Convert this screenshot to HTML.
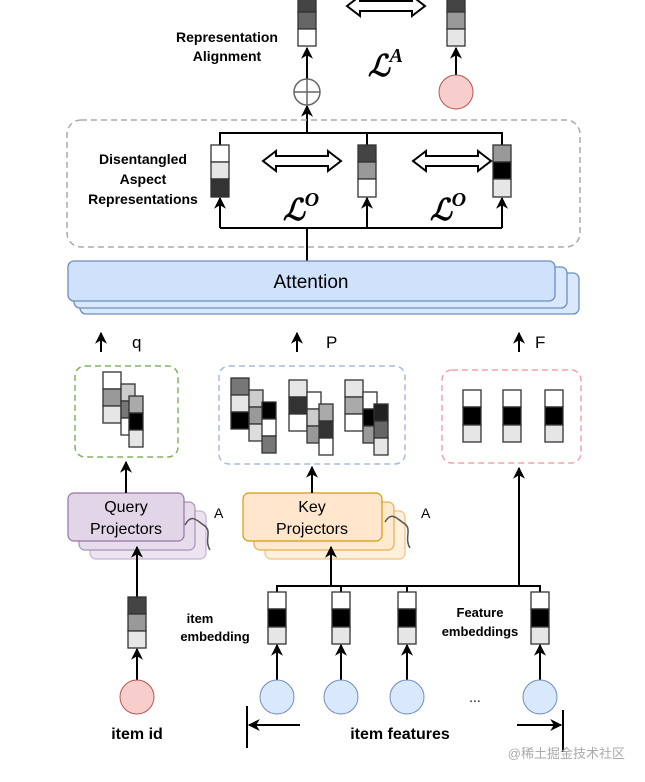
<!DOCTYPE html>
<html><head><meta charset="utf-8"><style>
html,body{margin:0;padding:0;background:#fff;}
svg{display:block;font-family:"Liberation Sans",Arial,sans-serif;}
</style></head><body>
<svg width="645" height="782" viewBox="0 0 645 782" xmlns="http://www.w3.org/2000/svg">
<defs>
<marker id="ah2" viewBox="0 0 10 10" refX="9" refY="5" markerWidth="12" markerHeight="12" orient="auto" markerUnits="userSpaceOnUse">
<path d="M0,0 L10,5 L0,10 L3,5 z" fill="#000"/></marker>
</defs>
<g stroke="#000" stroke-width="2" fill="none">
<line x1="307" y1="132" x2="307" y2="106" marker-end="url(#ah2)"/>
<line x1="307" y1="79" x2="307" y2="48" marker-end="url(#ah2)"/>
<line x1="456" y1="75" x2="456" y2="48" marker-end="url(#ah2)"/>
</g>
<g stroke="#333" stroke-width="1.3">
<rect x="298" y="-5" width="18" height="17" fill="#444"/>
<rect x="298" y="12" width="18" height="17" fill="#666"/>
<rect x="298" y="29" width="18" height="17" fill="#fff"/>
<rect x="447" y="-5" width="18" height="17" fill="#444"/>
<rect x="447" y="12" width="18" height="17" fill="#999"/>
<rect x="447" y="29" width="18" height="17" fill="#e6e6e6"/>
</g>
<path d="M347,6 L360,-4 L360,1 L412,1 L412,-4 L425,6 L412,16 L412,11 L360,11 L360,16 Z" fill="#fff" stroke="#000" stroke-width="2"/>
<circle cx="307" cy="92" r="13" fill="#fff" stroke="#666" stroke-width="1.5"/>
<line x1="294" y1="92" x2="320" y2="92" stroke="#666" stroke-width="1.5"/>
<line x1="307" y1="79" x2="307" y2="105" stroke="#666" stroke-width="1.5"/>
<circle cx="456" cy="92" r="17" fill="#f8cecc" stroke="#b85450" stroke-width="1"/>
<text x="227" y="42" font-size="14" font-weight="bold" text-anchor="middle">Representation</text>
<text x="227" y="61" font-size="14" font-weight="bold" text-anchor="middle">Alignment</text>
<text x="368" y="76" font-size="30" font-style="italic" font-weight="bold" font-family="Liberation Serif,serif">ℒ<tspan font-size="20" dy="-14">A</tspan></text>

<rect x="67" y="120" width="513" height="127" rx="14" fill="none" stroke="#aaa" stroke-width="1.5" stroke-dasharray="6,4"/>
<g stroke="#000" stroke-width="2" fill="none">
<polyline points="220,145 220,133 502,133 502,145"/>
<line x1="367" y1="133" x2="367" y2="145"/>
<polyline points="220,228 502,228"/>
<line x1="220" y1="228" x2="220" y2="198" marker-end="url(#ah2)"/>
<line x1="367" y1="228" x2="367" y2="198" marker-end="url(#ah2)"/>
<line x1="502" y1="228" x2="502" y2="198" marker-end="url(#ah2)"/>
<line x1="307" y1="228" x2="307" y2="262"/>
</g>
<g stroke="#333" stroke-width="1.3">
<rect x="211" y="145" width="18" height="17" fill="#fff"/>
<rect x="211" y="162" width="18" height="17" fill="#e6e6e6"/>
<rect x="211" y="179" width="18" height="18" fill="#333"/>
<rect x="358" y="145" width="18" height="17" fill="#444"/>
<rect x="358" y="162" width="18" height="17" fill="#999"/>
<rect x="358" y="179" width="18" height="18" fill="#fff"/>
<rect x="493" y="145" width="18" height="17" fill="#999"/>
<rect x="493" y="162" width="18" height="17" fill="#000"/>
<rect x="493" y="179" width="18" height="18" fill="#e6e6e6"/>
</g>
<path d="M263,161 L276,151 L276,156 L328,156 L328,151 L341,161 L328,171 L328,166 L276,166 L276,171 Z" fill="#fff" stroke="#000" stroke-width="2"/>
<path d="M413,161 L426,151 L426,156 L478,156 L478,151 L491,161 L478,171 L478,166 L426,166 L426,171 Z" fill="#fff" stroke="#000" stroke-width="2"/>
<text x="283" y="220" font-size="30" font-style="italic" font-weight="bold" font-family="Liberation Serif,serif">ℒ<tspan font-size="20" dy="-14">O</tspan></text>
<text x="430" y="220" font-size="30" font-style="italic" font-weight="bold" font-family="Liberation Serif,serif">ℒ<tspan font-size="20" dy="-14">O</tspan></text>
<g font-size="14" font-weight="bold" text-anchor="middle">
<text x="143" y="164">Disentangled</text>
<text x="143" y="184">Aspect</text>
<text x="143" y="204">Representations</text>
</g>

<rect x="80" y="273" width="499" height="41" rx="6" fill="#dae8fc" stroke="#6c8ebf" stroke-width="1.3"/>
<rect x="74" y="267" width="493" height="41" rx="6" fill="#dae8fc" stroke="#6c8ebf" stroke-width="1.3"/>
<rect x="68" y="261" width="487" height="40" rx="6" fill="#cfe1fb" stroke="#6c8ebf" stroke-width="1.3"/>
<text x="311" y="288" font-size="19" text-anchor="middle">Attention</text>

<g stroke="#000" stroke-width="2">
<line x1="101" y1="352" x2="101" y2="333" marker-end="url(#ah2)"/>
<line x1="297" y1="352" x2="297" y2="333" marker-end="url(#ah2)"/>
<line x1="519" y1="352" x2="519" y2="333" marker-end="url(#ah2)"/>
</g>
<text x="132" y="348" font-size="17">q</text>
<text x="326" y="348" font-size="17">P</text>
<text x="535" y="348" font-size="17">F</text>

<rect x="75" y="366" width="103" height="91" rx="10" fill="none" stroke="#82b366" stroke-width="1.5" stroke-dasharray="6,4"/>
<rect x="219" y="366" width="186" height="98" rx="10" fill="none" stroke="#a9b9e0" stroke-width="1.5" stroke-dasharray="6,4"/>
<rect x="442" y="370" width="139" height="93" rx="10" fill="none" stroke="#f4a3a8" stroke-width="1.5" stroke-dasharray="6,4"/>

<g stroke="#333" stroke-width="1.3">
<rect x="103" y="372" width="18" height="17" fill="#fff"/>
<rect x="103" y="389" width="18" height="17" fill="#999"/>
<rect x="103" y="406" width="18" height="17" fill="#e6e6e6"/>
<rect x="121" y="384" width="14" height="17" fill="#ccc"/>
<rect x="121" y="401" width="14" height="17" fill="#777"/>
<rect x="121" y="418" width="14" height="17" fill="#fff"/>
<rect x="129" y="396" width="14" height="17" fill="#aaa"/>
<rect x="129" y="413" width="14" height="17" fill="#000"/>
<rect x="129" y="430" width="14" height="17" fill="#e6e6e6"/>
<rect x="231" y="378" width="18" height="17" fill="#777"/>
<rect x="231" y="395" width="18" height="17" fill="#e6e6e6"/>
<rect x="231" y="412" width="18" height="17" fill="#000"/>
<rect x="249" y="390" width="14" height="17" fill="#ccc"/>
<rect x="249" y="407" width="14" height="17" fill="#999"/>
<rect x="249" y="424" width="14" height="17" fill="#ddd"/>
<rect x="262" y="402" width="14" height="17" fill="#000"/>
<rect x="262" y="419" width="14" height="17" fill="#fff"/>
<rect x="262" y="436" width="14" height="17" fill="#777"/>
<rect x="289" y="380" width="18" height="17" fill="#e6e6e6"/>
<rect x="289" y="397" width="18" height="17" fill="#333"/>
<rect x="289" y="414" width="18" height="17" fill="#fff"/>
<rect x="307" y="392" width="14" height="17" fill="#fff"/>
<rect x="307" y="409" width="14" height="17" fill="#ccc"/>
<rect x="307" y="426" width="14" height="17" fill="#999"/>
<rect x="319" y="404" width="14" height="17" fill="#aaa"/>
<rect x="319" y="421" width="14" height="17" fill="#333"/>
<rect x="319" y="438" width="14" height="17" fill="#fff"/>
<rect x="345" y="380" width="18" height="17" fill="#e6e6e6"/>
<rect x="345" y="397" width="18" height="17" fill="#aaa"/>
<rect x="345" y="414" width="18" height="17" fill="#fff"/>
<rect x="363" y="392" width="14" height="17" fill="#fff"/>
<rect x="363" y="409" width="14" height="17" fill="#000"/>
<rect x="363" y="426" width="14" height="17" fill="#999"/>
<rect x="374" y="404" width="14" height="17" fill="#222"/>
<rect x="374" y="421" width="14" height="17" fill="#666"/>
<rect x="374" y="438" width="14" height="17" fill="#e6e6e6"/>
<rect x="463" y="390" width="18" height="17" fill="#fff"/>
<rect x="463" y="407" width="18" height="18" fill="#000"/>
<rect x="463" y="425" width="18" height="17" fill="#e6e6e6"/>
<rect x="503" y="390" width="18" height="17" fill="#fff"/>
<rect x="503" y="407" width="18" height="18" fill="#000"/>
<rect x="503" y="425" width="18" height="17" fill="#e6e6e6"/>
<rect x="545" y="390" width="18" height="17" fill="#fff"/>
<rect x="545" y="407" width="18" height="18" fill="#000"/>
<rect x="545" y="425" width="18" height="17" fill="#e6e6e6"/>
</g>

<rect x="90" y="511" width="116" height="48" rx="6" fill="#ece4f0" stroke="#c6b3d2" stroke-width="1.2"/>
<rect x="79" y="502" width="116" height="48" rx="6" fill="#e6dcec" stroke="#a990b8" stroke-width="1.2"/>
<rect x="68" y="493" width="116" height="48" rx="6" fill="#e1d5e7" stroke="#9673a6" stroke-width="1.2"/>
<text x="126" y="512" font-size="16" text-anchor="middle">Query</text>
<text x="126" y="534" font-size="16" text-anchor="middle">Projectors</text>
<rect x="265" y="511" width="140" height="48" rx="6" fill="#fff0dd" stroke="#f0c27a" stroke-width="1.2"/>
<rect x="254" y="502" width="140" height="48" rx="6" fill="#ffe9cf" stroke="#e6ad50" stroke-width="1.2"/>
<rect x="243" y="493" width="139" height="48" rx="6" fill="#ffe6cc" stroke="#d79b00" stroke-width="1.2"/>
<text x="312" y="512" font-size="16" text-anchor="middle">Key</text>
<text x="312" y="534" font-size="16" text-anchor="middle">Projectors</text>
<path d="M185,525 C192,512 198,522 205,526 C212,532 204,540 210,550" fill="none" stroke="#555" stroke-width="1.5"/>
<text x="214" y="518" font-size="14">A</text>
<path d="M385,522 C392,510 398,520 405,524 C412,530 404,538 410,548" fill="none" stroke="#555" stroke-width="1.5"/>
<text x="421" y="518" font-size="14">A</text>

<g stroke="#000" stroke-width="2" fill="none">
<line x1="126" y1="493" x2="126" y2="462" marker-end="url(#ah2)"/>
<line x1="312" y1="493" x2="312" y2="467" marker-end="url(#ah2)"/>
<line x1="519" y1="586" x2="519" y2="468" marker-end="url(#ah2)"/>
<line x1="331" y1="586" x2="331" y2="547" marker-end="url(#ah2)"/>
<line x1="137" y1="597" x2="137" y2="547" marker-end="url(#ah2)"/>
<polyline points="277,592 277,586 540,586 540,592"/>
<line x1="341" y1="586" x2="341" y2="592"/>
<line x1="407" y1="586" x2="407" y2="592"/>
<line x1="137" y1="680" x2="137" y2="649" marker-end="url(#ah2)"/>
<line x1="277" y1="680" x2="277" y2="645" marker-end="url(#ah2)"/>
<line x1="341" y1="680" x2="341" y2="645" marker-end="url(#ah2)"/>
<line x1="407" y1="680" x2="407" y2="645" marker-end="url(#ah2)"/>
<line x1="540" y1="680" x2="540" y2="645" marker-end="url(#ah2)"/>
<line x1="247" y1="706" x2="247" y2="748"/>
<line x1="300" y1="725" x2="249" y2="725" marker-end="url(#ah2)"/>
<line x1="563" y1="710" x2="563" y2="752"/>
<line x1="517" y1="725" x2="561" y2="725" marker-end="url(#ah2)"/>
</g>
<g stroke="#333" stroke-width="1.3">
<rect x="128" y="597" width="18" height="17" fill="#444"/>
<rect x="128" y="614" width="18" height="17" fill="#999"/>
<rect x="128" y="631" width="18" height="17" fill="#e6e6e6"/>
<rect x="268" y="592" width="18" height="17" fill="#fff"/>
<rect x="268" y="609" width="18" height="18" fill="#000"/>
<rect x="268" y="627" width="18" height="17" fill="#e6e6e6"/>
<rect x="332" y="592" width="18" height="17" fill="#fff"/>
<rect x="332" y="609" width="18" height="18" fill="#000"/>
<rect x="332" y="627" width="18" height="17" fill="#e6e6e6"/>
<rect x="398" y="592" width="18" height="17" fill="#fff"/>
<rect x="398" y="609" width="18" height="18" fill="#000"/>
<rect x="398" y="627" width="18" height="17" fill="#e6e6e6"/>
<rect x="531" y="592" width="18" height="17" fill="#fff"/>
<rect x="531" y="609" width="18" height="18" fill="#000"/>
<rect x="531" y="627" width="18" height="17" fill="#e6e6e6"/>
</g>
<circle cx="137" cy="697" r="17" fill="#f8cecc" stroke="#b85450" stroke-width="1"/>
<g fill="#dae8fc" stroke="#6c8ebf" stroke-width="1">
<circle cx="277" cy="697" r="17"/><circle cx="341" cy="697" r="17"/>
<circle cx="407" cy="697" r="17"/><circle cx="540" cy="697" r="17"/>
</g>
<text x="475" y="702" font-size="14" text-anchor="middle">...</text>
<g font-size="13" font-weight="bold" text-anchor="middle">
<text x="200" y="623">item</text>
<text x="215" y="641">embedding</text>
<text x="480" y="617">Feature</text>
<text x="480" y="636">embeddings</text>
</g>
<text x="137" y="739" font-size="16" font-weight="bold" text-anchor="middle">item id</text>
<text x="400" y="739" font-size="16" font-weight="bold" text-anchor="middle">item features</text>
<text x="625" y="758" font-size="13" fill="#aaa" text-anchor="end" font-family="Liberation Sans,'Noto Sans CJK SC',sans-serif">@稀土掘金技术社区</text>
</svg>
</body></html>
